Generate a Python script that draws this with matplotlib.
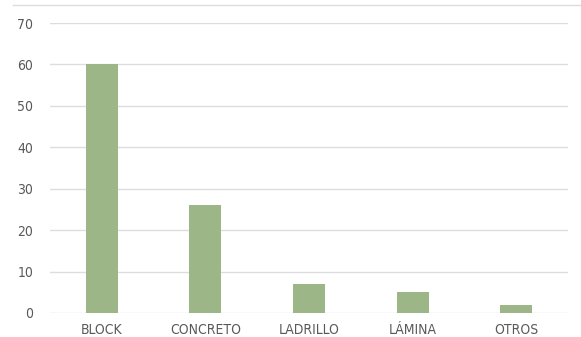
import matplotlib.pyplot as plt
from matplotlib.lines import Line2D

# materiales de construccion
materiales = ['BLOCK', 'CONCRETO', 'LADRILLO', 'LÁMINA', 'OTROS']
valores = [60, 26, 7, 5, 2]
ticks_y = [0, 10, 20, 30, 40, 50, 60, 70]

plt.rcParams['font.family'] = ['DejaVu Sans']
plt.rcParams['font.stretch'] = 'condensed'

fig = plt.figure(figsize=(5.81, 3.37), dpi=100)
ax = fig.add_axes([50 / 581, 1 - 313 / 337, 518 / 581, 290 / 337])

x = range(len(materiales))
ax.bar(x, valores, width=0.31, color='#9DB687', zorder=3)

ax.set_xlim(-0.5, len(materiales) - 0.5)
ax.set_ylim(0, 70)
ax.set_yticks(ticks_y)
ax.set_xticks(list(x))
ax.set_xticklabels(materiales)
ax.grid(axis='y', color='#DDDDDD', linewidth=1, zorder=0)
for s in ax.spines.values():
    s.set_visible(False)
ax.tick_params(length=0, labelsize=10, colors='#595959')
ax.tick_params(axis='y', pad=12)
ax.tick_params(axis='x', pad=7)

# borde superior recortado del titulo
fig.add_artist(Line2D([13 / 581, 1], [1 - 4.5 / 337] * 2, color='#DDDDDD', linewidth=1))
fig.text(28 / 581, 1 + 6 / 337, 'g', fontsize=11, color='#404040', va='baseline')

fig.savefig('out.png', dpi=100)
